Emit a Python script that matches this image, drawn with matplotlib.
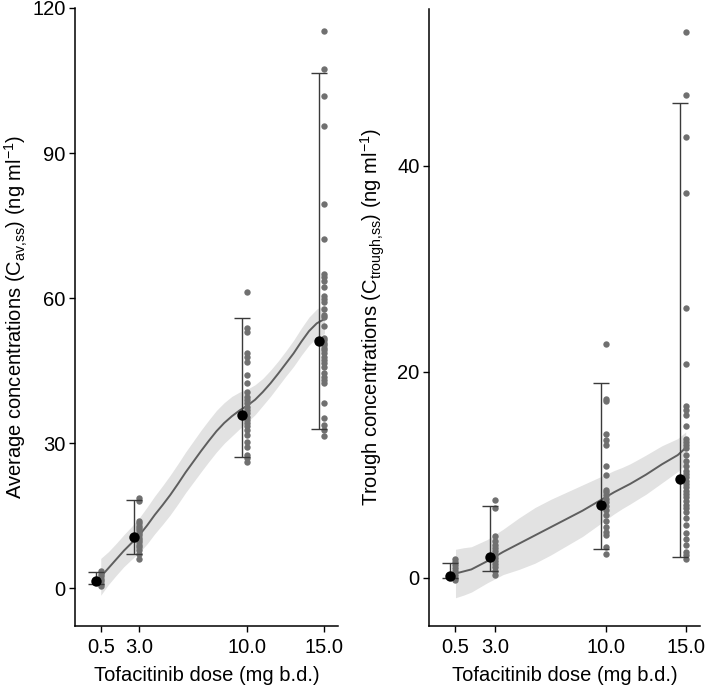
import numpy as np
import matplotlib
matplotlib.use('Agg')
import matplotlib.pyplot as plt

plt.rcParams['font.family'] = ['Liberation Sans', 'DejaVu Sans']
plt.rcParams['mathtext.fontset'] = 'custom'
plt.rcParams['mathtext.rm'] = 'Liberation Sans'

# ── Data ──────────────────────────────────────────────────────────────────────
doses = [0.5, 3.0, 10.0, 15.0]
dose_labels = ['0.5', '3.0', '10.0', '15.0']

# average concentrations (left)
cav_05 = [3.6, 3.0, 2.5, 2.0, 1.5, 1.0, 0.5]
cav_3 = [18.6, 18.1, 14.0, 13.5, 13.0, 12.5, 12.0, 11.5, 11.0, 10.5, 10.0,
         9.5, 9.0, 8.5, 7.9, 7.1, 6.0]
cav_10 = [61.2, 53.8, 53.0, 48.6, 47.9, 46.9, 44.1, 42.4, 40.7, 39.6, 38.9,
          38.3, 37.6, 36.9, 36.2, 35.5, 34.8, 34.2, 33.5, 32.8, 31.7, 30.3,
          29.3, 27.6, 26.9, 26.2]
cav_15 = [115.2, 107.4, 101.8, 95.5, 79.4, 72.3, 65.0, 64.3, 63.6, 62.4, 60.5,
          59.9, 59.2, 57.8, 56.6, 56.2, 54.3, 51.8, 51.4, 50.8, 50.3, 49.7,
          49.2, 48.7, 47.9, 47.2, 46.6, 45.8, 44.5, 43.8, 43.1, 42.5, 38.3,
          35.2, 33.8, 32.8, 31.5]
cav_mean = [1.5, 10.6, 35.9, 51.2]
cav_lo = [1.0, 7.2, 27.2, 33.0]
cav_hi = [3.3, 18.3, 55.9, 106.6]

smooth_x = [0.5, 1, 1.5, 2, 2.5, 3, 3.5, 4, 4.5, 5, 5.5, 6, 6.5, 7, 7.5, 8,
            8.5, 9, 9.5, 10, 10.5, 11, 11.5, 12, 12.5, 13, 13.5, 14, 14.5, 15]
cav_fit = [2.4, 4.2, 6.0, 7.8, 9.4, 11.0, 13.0, 15.2, 17.2, 19.3, 21.6, 24.0,
           26.2, 28.4, 30.5, 32.5, 34.2, 35.6, 36.8, 37.8, 39.0, 40.6, 42.4,
           44.4, 46.5, 48.6, 51.0, 53.2, 54.8, 55.7]
cav_ci = [3.8, 3.4, 3.3, 3.3, 3.4, 3.6, 3.8, 3.9, 4.0, 4.1, 4.15, 4.2, 4.25,
          4.3, 4.3, 4.3, 4.2, 4.1, 3.8, 3.4, 3.1, 2.8, 2.7, 2.6, 2.6, 2.7,
          2.8, 2.9, 2.95, 3.0]

# trough concentrations (right)
ctr_05 = [1.8, 1.5, 1.2, 0.9, 0.6, 0.3, 0.0, -0.2]
ctr_3 = [7.5, 6.8, 4.0, 3.6, 3.2, 2.9, 2.6, 2.2, 1.9, 1.6, 1.3, 1.0, 0.6, 0.3]
ctr_10 = [22.7, 17.3, 17.1, 13.9, 13.4, 12.9, 10.8, 10.0, 8.5, 8.3, 8.0, 7.6,
          7.3, 7.0, 6.6, 6.1, 5.5, 4.9, 4.4, 4.1, 3.0, 2.3]
ctr_15 = [53.0, 46.8, 42.8, 37.3, 26.2, 20.7, 16.7, 16.3, 15.8, 14.7, 13.5,
          13.2, 12.9, 12.6, 11.9, 11.3, 10.8, 10.4, 10.1, 9.8, 9.4, 9.1, 8.8,
          8.4, 8.1, 7.8, 7.4, 7.1, 6.8, 6.4, 5.8, 5.1, 4.3, 3.8, 3.2, 2.5,
          2.2, 1.8]
ctr_mean = [0.2, 2.0, 7.1, 9.55]
ctr_lo = [0.0, 0.6, 2.8, 2.0]
ctr_hi = [1.4, 7.0, 18.9, 46.1]

ctr_fit = [0.4, 0.6, 0.8, 1.2, 1.6, 2.05, 2.5, 2.9, 3.3, 3.7, 4.1, 4.5, 4.9,
           5.3, 5.7, 6.1, 6.5, 6.95, 7.4, 7.85, 8.3, 8.7, 9.1, 9.55, 10.0,
           10.5, 11.0, 11.45, 11.9, 12.6]
ctr_ci = [2.35, 2.3, 2.2, 2.15, 2.1, 2.15, 2.2, 2.35, 2.5, 2.6, 2.7, 2.7, 2.7,
          2.65, 2.6, 2.55, 2.5, 2.4, 2.3, 2.2, 2.1, 2.0, 1.95, 1.92, 1.9,
          1.85, 1.8, 1.7, 1.6, 1.55]

# ── Figure ────────────────────────────────────────────────────────────────────
fig = plt.figure(figsize=(7.09, 6.88), dpi=100)
ax_l = fig.add_axes([0.1062, 0.0906, 0.371, 0.8978])
ax_r = fig.add_axes([0.6055, 0.0906, 0.3818, 0.8964])

DOT = '#707070'
NUDGE = -0.34


def panel(ax, groups, mean, lo, hi, fit, ci, ylim, yticks, ylabel, label_x):
    fit = np.array(fit)
    ci = np.array(ci)
    ax.fill_between(smooth_x, fit - ci, fit + ci, color='#e2e2e2', lw=0, zorder=1)
    ax.plot(smooth_x, fit, color='#5e5e5e', lw=1.4, zorder=2)
    for d, vals in zip(doses, groups):
        ax.plot([d] * len(vals), vals, 'o', color=DOT, ms=4.6, mew=0, zorder=3)
    xm = np.array(doses) + NUDGE
    mean = np.array(mean)
    ax.errorbar(xm, mean, yerr=[mean - np.array(lo), np.array(hi) - mean],
                fmt='none', ecolor='#3a3a3a', elinewidth=1.0, capsize=6,
                capthick=1.0, zorder=4)
    ax.plot(xm, mean, 'o', color='black', ms=7.5, mew=0, zorder=5)

    ax.set_xlim(-1.15, 15.9)
    ax.set_ylim(*ylim)
    ax.set_xticks(doses)
    ax.set_xticklabels(dose_labels)
    ax.set_yticks(yticks)
    for sp in ('top', 'right'):
        ax.spines[sp].set_visible(False)
    for sp in ('left', 'bottom'):
        ax.spines[sp].set_linewidth(1.1)
    ax.tick_params(labelsize=14.5, length=4, width=1.0, pad=3, colors='black')
    ax.tick_params(axis='x', pad=5)
    ax.set_xlabel('Tofacitinib dose (mg b.d.)', fontsize=14.5, labelpad=6)
    ax.set_ylabel(ylabel, fontsize=14.5, va='center')
    ax.yaxis.set_label_coords(label_x, 0.5)


panel(ax_l, [cav_05, cav_3, cav_10, cav_15], cav_mean, cav_lo, cav_hi,
      cav_fit, cav_ci, (-7.7, 120), [0, 30, 60, 90, 120],
      r'Average concentrations (C$_{\mathregular{av{,}ss}}$) (ng ml$^{\mathregular{-1}}$)',
      -0.225)
panel(ax_r, [ctr_05, ctr_3, ctr_10, ctr_15], ctr_mean, ctr_lo, ctr_hi,
      ctr_fit, ctr_ci, (-4.66, 55.2), [0, 20, 40],
      r'Trough concentrations (C$_{\mathregular{trough{,}ss}}$) (ng ml$^{\mathregular{-1}}$)',
      -0.21)

fig.savefig('out.png', dpi=100)
